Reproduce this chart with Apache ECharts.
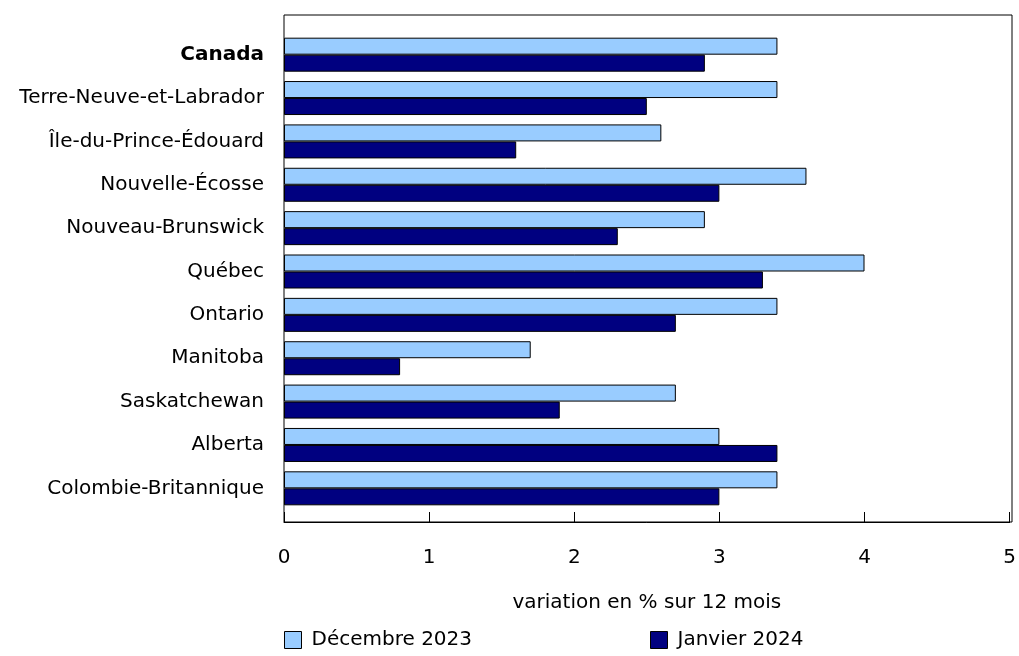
<!DOCTYPE html>
<html><head><meta charset="utf-8">
<script src="https://cdn.jsdelivr.net/npm/echarts@6/dist/echarts.min.js"></script>
<style>html,body{margin:0;padding:0;background:#fff}#c{width:1019px;height:656px}</style>
</head><body><div id="c"></div>
<script>
const categories = ["Canada","Terre-Neuve-et-Labrador","Île-du-Prince-Édouard","Nouvelle-Écosse","Nouveau-Brunswick","Québec","Ontario","Manitoba","Saskatchewan","Alberta","Colombie-Britannique"];
const dec2023 = [3.4,3.4,2.6,3.6,2.9,4.0,3.4,1.7,2.7,3.0,3.4];
const jan2024 = [2.9,2.5,1.6,3.0,2.3,3.3,2.7,0.8,1.9,3.4,3.0];
const xTicks = [0,1,2,3,4,5];
const F = "'DejaVu Sans', Verdana, sans-serif";
const FS = 20;
const chart = echarts.init(document.getElementById('c'));
const legendText = {fontFamily:F,fontSize:FS,color:'#000',padding:[0,0,0,5]};
chart.setOption({
  animation:false,
  textStyle:{fontFamily:F},
  grid:[
    {left:284,right:7,top:33,bottom:146},
    {left:284,right:7,top:15,bottom:134,show:true,borderColor:'#000',borderWidth:1,backgroundColor:'transparent'}
  ],
  legend:[
    {left:284,bottom:6,padding:0,itemWidth:17,itemHeight:17,itemGap:10,icon:'rect',textStyle:legendText,
      data:[{name:'Décembre 2023',itemStyle:{borderColor:'#000',borderWidth:1}}]},
    {left:650,bottom:6,padding:0,itemWidth:17,itemHeight:17,itemGap:10,icon:'rect',textStyle:legendText,
      data:[{name:'Janvier 2024',itemStyle:{borderColor:'#000',borderWidth:1}}]}
  ],
  xAxis:[
    {type:'value',gridIndex:0,min:xTicks[0],max:xTicks[xTicks.length-1],interval:1,offset:12,
      name:'variation en % sur 12 mois',nameLocation:'middle',nameGap:71,
      nameTextStyle:{fontFamily:F,fontSize:FS,color:'#000'},
      axisLine:{show:true,lineStyle:{color:'#000',width:1}},
      axisTick:{show:true,inside:true,length:10,lineStyle:{color:'#000'}},
      axisLabel:{fontFamily:F,fontSize:FS,color:'#000',margin:26},
      splitLine:{show:false}},
    {type:'value',gridIndex:1,min:0,max:1,show:false}
  ],
  yAxis:[
    {type:'category',gridIndex:0,data:categories,inverse:true,
      axisLine:{show:false},axisTick:{show:false},
      axisLabel:{fontFamily:F,fontSize:FS,color:'#000',margin:20,
        formatter:function(v){return v==='Canada'?'{b|'+v+'}':v;},
        rich:{b:{fontWeight:'bold',fontFamily:F,fontSize:FS,color:'#000'}}}},
    {type:'value',gridIndex:1,min:0,max:1,show:false}
  ],
  series:[
    {name:'Décembre 2023',type:'bar',data:dec2023,barWidth:17,barGap:'0%',
      itemStyle:{color:'#99CCFF',borderColor:'#000',borderWidth:1}},
    {name:'Janvier 2024',type:'bar',data:jan2024,barWidth:17,barGap:'0%',
      itemStyle:{color:'#000080',borderColor:'#000',borderWidth:1}}
  ]
});
</script></body></html>
